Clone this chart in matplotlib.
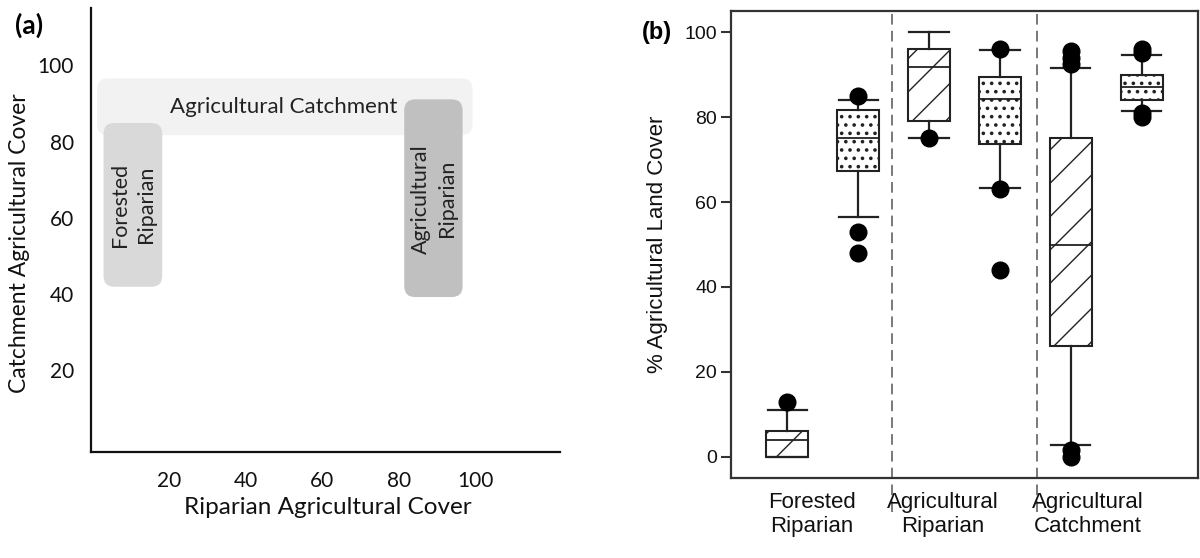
import matplotlib
matplotlib.use("Agg")
import matplotlib.pyplot as plt
from matplotlib.patches import FancyBboxPatch

# ---- panel (a): conceptual regions ----
region_names = ["Agricultural Catchment", "Forested\nRiparian", "Agricultural\nRiparian"]
region_x = [(1.3, 99.2), (3.0, 18.3), (81.4, 96.6)]
region_y = [(81.7, 96.6), (41.9, 84.9), (39.2, 91.1)]
region_colors = ["#f2f2f2", "#d9d9d9", "#c0c0c0"]
a_ticks = [20, 40, 60, 80, 100]

# ---- panel (b): box plot statistics ----
groups = ["Forested\nRiparian", "Agricultural\nRiparian", "Agricultural\nCatchment"]
q1 = [0, 67.3, 79.1, 73.7, 26.0, 84.0]
med = [4.0, 75.2, 91.7, 84.2, 50.0, 87.0]
q3 = [6.0, 81.6, 96.0, 89.5, 75.1, 90.0]
whislo = [0, 56.5, 75.2, 63.4, 2.8, 81.4]
whishi = [10.9, 84.0, 100, 95.8, 91.6, 94.7]
fliers = [[13], [85, 53, 48], [75], [96, 63, 44],
          [95.5, 94, 92.5, 1.5, 0], [96, 95, 81, 80]]
hatches = ["/", "..", "/", "..", "/", ".."]
b_ticks = [0, 20, 40, 60, 80, 100]

plt.rcParams["hatch.linewidth"] = 1.0
plt.rcParams["hatch.color"] = "#222222"

W, H = 1200, 558
fig = plt.figure(figsize=(12, 5.58), dpi=100)

def px_axes(x0, y0, x1, y1):
    return fig.add_axes([x0 / W, 1 - y1 / H, (x1 - x0) / W, (y1 - y0) / H])

# ================= panel (a) =================
lato = "Lato"
ax = px_axes(90.5, 8.3, 560, 451.7)
ax.set_xlim(-0.4, 122)
ax.set_ylim(-1.4, 115)
for s in ["top", "right"]:
    ax.spines[s].set_visible(False)
for s in ["left", "bottom"]:
    ax.spines[s].set_linewidth(1.6)
    ax.spines[s].set_color("#111111")
ax.set_xticks(a_ticks)
ax.set_yticks(a_ticks)
ax.tick_params(length=0, labelsize=15)
ax.tick_params(axis="x", pad=14)
ax.tick_params(axis="y", pad=12)
for lab in ax.get_xticklabels() + ax.get_yticklabels():
    lab.set_fontfamily(lato)
    lab.set_color("#111111")

for name, (x0, x1), (y0, y1), c in zip(region_names, region_x, region_y, region_colors):
    ax.add_patch(FancyBboxPatch((x0, y0), x1 - x0, y1 - y0,
                                boxstyle="round,pad=0,rounding_size=2.8",
                                fc=c, ec="none"))
ax.text(50, 89, region_names[0], ha="center", va="center",
        fontsize=16, family=lato, color="#222222")
ax.text(10.7, 63.5, region_names[1], ha="center", va="center", rotation=90,
        fontsize=15.5, family=lato, color="#222222", linespacing=1.4)
ax.text(89.1, 65, region_names[2], ha="center", va="center", rotation=90,
        fontsize=15.5, family=lato, color="#222222", linespacing=1.4)

fig.text(327.5 / W, 1 - 508 / H, "Riparian Agricultural Cover", ha="center",
         va="center", fontsize=17.5, family=lato, color="#111111")
fig.text(20 / W, 1 - 243 / H, "Catchment Agricultural Cover", ha="center",
         va="center", rotation=90, fontsize=16.5, family=lato, color="#111111")
fig.text(29 / W, 1 - 25 / H, "(a)", ha="center", va="center", fontsize=19,
         family=lato, weight="bold")

# ================= panel (b) =================
arial = "Liberation Sans"
bx = px_axes(731, 11, 1198, 478)
bx.set_xlim(0.21, 6.79)
bx.set_ylim(-5, 105)

stats = []
for i in range(6):
    stats.append(dict(q1=q1[i], med=med[i], q3=q3[i], whislo=whislo[i],
                      whishi=whishi[i], fliers=fliers[i]))
res = bx.bxp(stats, positions=range(1, 7), widths=0.6, capwidths=0.55,
             patch_artist=True, manage_ticks=False,
             boxprops=dict(facecolor="white", edgecolor="#222222", linewidth=1.5),
             medianprops=dict(color="#222222", linewidth=1.3),
             whiskerprops=dict(color="#222222", linewidth=1.6),
             capprops=dict(color="#222222", linewidth=1.6),
             flierprops=dict(marker="o", markerfacecolor="black",
                             markeredgecolor="black", markersize=12))
for patch, h in zip(res["boxes"], hatches):
    patch.set_hatch(h)
    if h == ".." and hasattr(patch, "set_hatch_linewidth"):
        patch.set_hatch_linewidth(1.4)

for xv in [2.48, 4.52]:
    bx.vlines(xv, -13, 105, colors="#555555", linewidth=1.1,
              linestyles=(0, (7, 4)), clip_on=False)

for s in bx.spines.values():
    s.set_linewidth(1.6)
    s.set_color("#333333")
bx.set_xticks([])
bx.set_yticks(b_ticks)
bx.tick_params(axis="y", length=7, width=1.5, color="#333333",
               labelsize=14, pad=3)
for lab in bx.get_yticklabels():
    lab.set_fontfamily(arial)
    lab.set_color("#111111")

for x, g in zip([1.35, 3.2, 5.24], groups):
    bx.text(x, -0.03, g, transform=bx.get_xaxis_transform(), ha="center",
            va="top", fontsize=16, family=arial, linespacing=1.2,
            color="#111111")
bx.text(-0.158, 0.5, "% Agricultural Land Cover", transform=bx.transAxes,
        rotation=90, ha="center", va="center", fontsize=16, family=arial,
        color="#111111")
fig.text(657 / W, 1 - 33 / H, "(b)", ha="center", va="center", fontsize=17,
         family=arial, weight="bold")

fig.savefig("out.png", dpi=100)
